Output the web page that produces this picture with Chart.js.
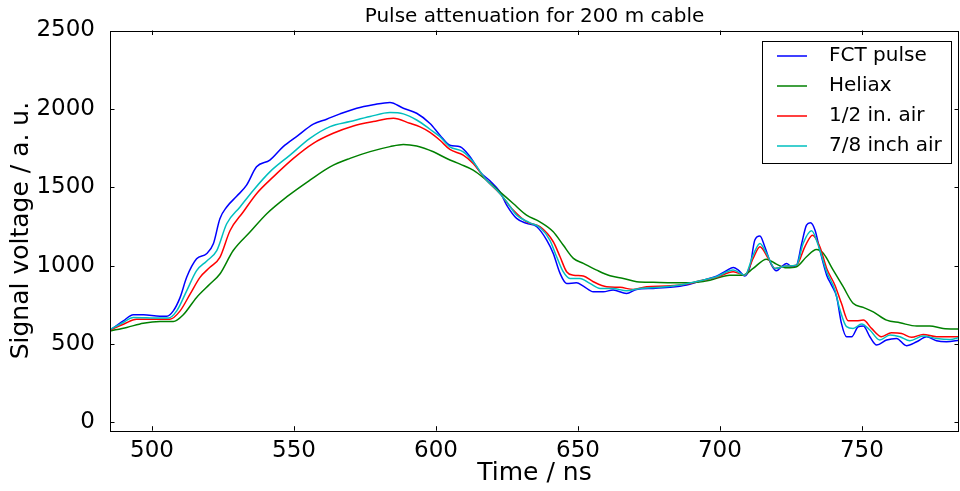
<!DOCTYPE html>
<html>
<head>
<meta charset="utf-8">
<script src="https://cdn.jsdelivr.net/npm/chart.js@4.4.1/dist/chart.umd.min.js"></script>
<style>
  html, body { margin: 0; padding: 0; background: #fff; }
  #wrap { width: 960px; height: 491px; }
</style>
</head>
<body>
<div id="wrap"><canvas id="c" width="960" height="491"></canvas></div>
<script>
// ---- Data ----
const seriesLabels = ["FCT pulse", "Heliax", "1/2 in. air", "7/8 inch air"];
const xTickValues = [500, 550, 600, 650, 700, 750];
const yTickValues = [0, 500, 1000, 1500, 2000, 2500];

const fctTime = [485.2,489.9,493.4,497.0,502.8,505.2,507.5,509.9,512.2,515.7,519.2,521.6,523.9,526.3,529.8,533.3,536.8,541.5,546.2,550.9,556.8,561.5,566.2,572.1,577.9,583.8,588.5,593.2,597.9,601.4,604.9,608.5,612.0,615.5,619.0,622.5,624.9,628.4,631.9,635.5,639.0,641.3,643.7,646.0,649.5,651.9,655.4,658.9,662.4,667.1,670.7,676.5,682.4,688.3,694.1,698.8,702.3,704.7,706.5,708.8,710.6,712.3,714.1,715.8,718.2,719.9,721.7,723.5,725.2,727.0,728.8,730.5,731.9,733.5,735.2,737.6,739.3,741.1,742.8,744.6,746.4,748.7,750.5,752.8,755.2,758.7,762.2,765.7,769.3,772.8,776.3,779.8,784.5];
const fctValue = [588,647,686,686,677,677,711,797,925,1043,1075,1139,1299,1374,1442,1513,1630,1673,1759,1823,1902,1934,1968,2004,2026,2041,2004,1972,1907,1832,1768,1758,1694,1598,1541,1471,1386,1301,1269,1248,1163,1078,950,886,890,869,833,833,844,822,848,854,861,876,907,933,967,988,971,933,993,1163,1188,1120,1003,967,993,1014,993,1003,1141,1258,1273,1226,1099,939,875,801,631,546,546,610,614,546,493,525,535,489,514,546,520,514,525];

const heliaxTime = [485.2,491.1,496.9,502.8,507.5,511.0,515.7,520.4,523.9,528.6,534.5,540.4,547.4,555.6,562.7,569.7,576.8,583.8,588.5,593.2,599.1,603.8,608.5,613.1,617.8,622.5,627.2,631.9,636.6,641.3,644.8,648.4,651.9,656.6,661.3,666.0,670.7,676.5,683.6,688.3,696.5,703.5,708.2,711.7,716.4,719.9,723.5,727.0,730.5,734.0,736.4,739.9,743.4,746.9,750.5,754.0,758.7,763.4,769.3,773.9,778.6,784.5];
const heliaxValue = [583,605,632,643,643,686,797,882,946,1096,1214,1331,1438,1545,1630,1684,1727,1759,1773,1763,1726,1683,1647,1609,1545,1471,1396,1322,1279,1216,1131,1046,1014,971,935,918,897,893,890,890,907,939,939,982,1041,1009,986,993,1056,1103,1078,971,865,759,733,705,652,635,614,614,599,595];

const halfInchTime = [485.2,489.9,494.6,502.8,506.3,509.9,513.4,516.9,520.4,523.9,527.5,532.1,536.8,542.7,549.8,556.8,563.8,570.9,577.9,585.0,590.8,594.4,597.9,601.4,604.9,609.6,613.1,617.8,622.5,627.2,631.9,636.6,641.3,643.7,646.0,648.4,651.9,655.4,660.1,664.8,669.5,674.2,681.2,688.3,693.0,698.8,704.7,708.8,711.7,714.1,717.0,719.4,723.5,727.0,729.9,732.6,735.2,737.6,740.5,742.8,745.2,748.1,750.5,753.4,756.9,760.4,764.0,767.5,771.6,776.3,781.0,784.5];
const halfInchValue = [588,626,658,658,658,711,818,925,989,1053,1224,1342,1459,1566,1684,1780,1844,1891,1919,1940,1908,1885,1850,1800,1741,1705,1652,1545,1460,1354,1279,1248,1152,1056,961,939,933,897,865,861,848,865,869,882,903,925,961,939,1046,1120,1046,982,997,1003,1120,1194,1120,982,875,759,648,648,652,599,546,572,567,542,561,546,546,546];

const sevenEighthTime = [485.2,489.9,493.4,502.8,505.7,508.7,512.2,515.7,519.2,522.8,526.3,531.0,535.7,541.5,548.6,555.6,562.7,569.7,576.8,583.8,588.5,593.2,597.9,601.4,604.9,609.6,613.1,617.8,621.4,624.9,628.4,633.1,636.6,640.1,642.5,644.8,647.2,650.7,654.2,657.8,662.4,667.1,671.8,678.9,685.9,693.0,698.8,704.7,708.8,711.7,714.1,716.4,719.4,723.5,727.0,729.3,732.3,734.6,737.6,740.5,742.3,744.6,746.9,749.9,752.8,756.3,759.9,763.4,766.9,771.6,776.3,781.0,784.5];
const sevenEighthValue = [592,637,669,665,665,711,839,968,1028,1096,1267,1374,1481,1598,1705,1812,1887,1919,1951,1976,1968,1929,1870,1822,1758,1726,1662,1545,1482,1407,1322,1273,1243,1163,1056,961,918,918,886,854,854,839,854,861,876,903,929,971,939,1067,1141,1078,982,997,1003,1141,1222,1131,961,844,716,610,599,627,589,525,557,546,520,550,535,529,542];

const seriesColors = ["#0000ff", "#008000", "#ff0000", "#00bfbf"];

// ---- Build ----
function pts(t, v) { return t.map((x, i) => ({ x: x, y: v[i] })); }
const seriesData = [
  pts(fctTime, fctValue),
  pts(heliaxTime, heliaxValue),
  pts(halfInchTime, halfInchValue),
  pts(sevenEighthTime, sevenEighthValue)
];

const FONT = "'DejaVu Sans', 'Liberation Sans', sans-serif";

const framePlugin = {
  id: 'frame',
  afterDatasetsDraw(chart) {
    const { ctx, chartArea: a, scales } = chart;
    ctx.save();
    ctx.strokeStyle = '#000';
    ctx.lineWidth = 1;
    ctx.strokeRect(Math.round(a.left) + 0.5, Math.round(a.top) + 0.5,
                   Math.round(a.right - a.left) - 1, Math.round(a.bottom - a.top));
    const L = 4.5;
    ctx.beginPath();
    xTickValues.forEach(v => {
      const px = Math.round(scales.x.getPixelForValue(v)) + 0.5;
      ctx.moveTo(px, a.top); ctx.lineTo(px, a.top + L);
      ctx.moveTo(px, a.bottom); ctx.lineTo(px, a.bottom - L);
    });
    yTickValues.forEach(v => {
      const py = Math.round(scales.y.getPixelForValue(v)) + 0.5;
      ctx.moveTo(a.left, py); ctx.lineTo(a.left + L, py);
      ctx.moveTo(a.right, py); ctx.lineTo(a.right - L, py);
    });
    ctx.stroke();
    ctx.restore();
  }
};

const legendPlugin = {
  id: 'boxLegend',
  afterDraw(chart) {
    const { ctx, chartArea: a } = chart;
    const right = a.right - 8, top = a.top + 10;
    const w = 189, h = 122;
    const left = right - w;
    ctx.save();
    ctx.fillStyle = '#fff';
    ctx.fillRect(left + 0.5, top + 0.5, w, h);
    ctx.strokeStyle = '#000';
    ctx.lineWidth = 1;
    ctx.strokeRect(Math.round(left) + 0.5, Math.round(top) + 0.5, w, h);
    ctx.font = '20px ' + FONT;
    ctx.textBaseline = 'middle';
    ctx.textAlign = 'left';
    chart.data.datasets.forEach((ds, i) => {
      const y = top + 15.5 + 30 * i;
      ctx.strokeStyle = ds.borderColor;
      ctx.lineWidth = 1.5;
      ctx.beginPath();
      ctx.moveTo(left + 15, y); ctx.lineTo(left + 45, y);
      ctx.stroke();
      ctx.fillStyle = '#000';
      ctx.fillText(ds.label, left + 67, y);
    });
    ctx.restore();
  }
};

new Chart(document.getElementById('c'), {
  type: 'line',
  data: {
    datasets: seriesLabels.map((lab, i) => ({
      label: lab,
      data: seriesData[i],
      borderColor: seriesColors[i],
      backgroundColor: seriesColors[i],
      borderWidth: 1.5,
      pointRadius: 0,
      fill: false,
      cubicInterpolationMode: 'monotone',
      order: 4 - i
    }))
  },
  options: {
    responsive: false,
    animation: false,
    devicePixelRatio: 1,
    layout: { padding: { left: 0, right: 1, top: 0, bottom: 0 } },
    plugins: {
      legend: { display: false },
      tooltip: { enabled: false },
      title: {
        display: true,
        text: 'Pulse attenuation for 200 m cable',
        fullSize: false,
        color: '#000',
        font: { family: FONT, size: 20, weight: 'normal' },
        padding: { top: 5, bottom: 1.5 }
      }
    },
    scales: {
      x: {
        type: 'linear',
        min: 485.2,
        max: 784.2,
        grid: { display: false },
        border: { display: false },
        ticks: {
          stepSize: 50, autoSkip: false, maxRotation: 0,
          color: '#000', padding: -1,
          font: { family: FONT, size: 23 },
          callback: v => String(v)
        },
        afterBuildTicks: s => { s.ticks = xTickValues.map(v => ({ value: v })); },
        afterFit: s => { s.height = 60.3; },
        title: {
          display: true, text: 'Time / ns', color: '#000',
          font: { family: FONT, size: 25 },
          padding: { top: 0, bottom: 3 }
        }
      },
      y: {
        type: 'linear',
        min: -53.6,
        max: 2500,
        grid: { display: false },
        border: { display: false },
        ticks: {
          stepSize: 500, autoSkip: false,
          color: '#000', padding: 7,
          font: { family: FONT, size: 23 },
          callback: v => String(v)
        },
        afterBuildTicks: s => { s.ticks = yTickValues.map(v => ({ value: v })); },
        afterFit: s => { s.width = 110; },
        title: {
          display: true, text: 'Signal voltage / a. u.', color: '#000',
          font: { family: FONT, size: 25 },
          padding: { top: 6, bottom: 0 }
        }
      }
    }
  },
  plugins: [framePlugin, legendPlugin]
});
</script>
</body>
</html>
